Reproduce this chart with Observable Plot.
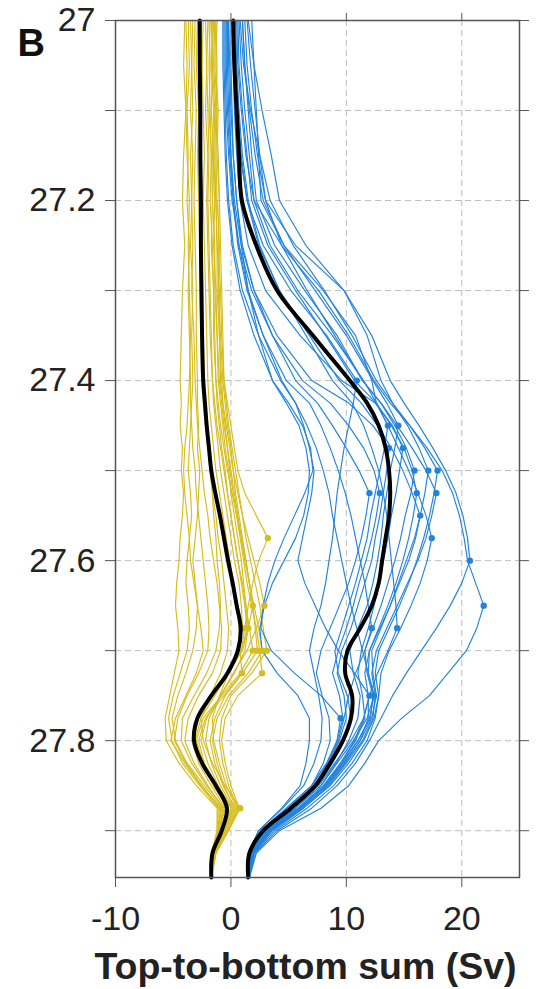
<!DOCTYPE html>
<html>
<head>
<meta charset="utf-8">
<script src="https://cdn.jsdelivr.net/npm/d3@7"></script>
<script src="https://cdn.jsdelivr.net/npm/@observablehq/plot@0.6"></script>
<style>
  html, body { margin: 0; padding: 0; background: #fff; }
  svg { display: block; }
</style>
</head>
<body>
<div id="chart"></div>
<script>
// Potential density levels
const density = [27.00,27.05,27.10,27.15,27.20,27.25,27.30,27.35,27.40,27.425,27.45,27.475,27.50,27.525,27.55,27.575,27.60,27.625,27.65,27.675,27.70,27.725,27.75,27.775,27.80,27.825,27.85,27.875,27.90,27.925,27.952];

// Yellow ensemble members (Sv), one row per member, values at each density level
const yellowRuns = [
  [-1.3,-1.2,-1.3,-1.1,-1.0,-1.1,-0.9,-0.8,-0.6,-0.3,0.0,0.3,0.6,1.2,2.2,3.2,2.4,1.9,1.5,1.2,0.9,-0.2,-1.0,-1.6,-1.5,-1.0,-0.4,0.5,-0.4,-1.4,-1.7],
  [-1.5,-1.6,-1.4,-1.5,-1.3,-1.2,-1.2,-1.0,-0.9,-0.7,-0.4,-0.1,0.2,0.6,1.0,1.5,2.0,2.5,2.9,2.2,1.4,0.2,-0.9,-1.9,-2.2,-1.7,-0.9,0.2,-0.6,-1.5,-1.7],
  [-1.9,-1.8,-1.9,-1.7,-1.8,-1.6,-1.5,-1.5,-1.3,-1.1,-0.9,-0.6,-0.3,0.1,0.5,0.9,1.3,1.6,1.9,1.5,1.0,-0.3,-1.6,-2.8,-3.2,-2.6,-1.5,-0.3,-0.9,-1.6,-1.7],
  [-2.0,-2.1,-2.0,-1.9,-2.0,-1.9,-1.8,-1.7,-1.6,-1.5,-1.3,-1.1,-0.9,-0.6,-0.3,0.0,0.3,0.7,0.9,1.0,0.6,-0.4,-1.8,-3.0,-3.4,-2.8,-1.7,-0.5,-1.0,-1.6,-1.7],
  [-1.6,-1.7,-1.5,-1.6,-1.4,-1.5,-1.3,-1.2,-1.1,-0.9,-0.7,-0.5,-0.2,0.0,0.3,0.6,0.9,1.1,1.3,1.5,1.2,0.3,-0.9,-2.1,-2.6,-2.0,-1.1,0.1,-0.7,-1.5,-1.7],
  [-1.3,-1.4,-1.2,-1.3,-1.2,-1.0,-1.1,-0.9,-0.7,-0.5,-0.3,0.0,0.2,0.4,0.7,1.0,1.3,1.6,1.9,2.1,2.3,1.0,-0.5,-1.4,-1.8,-1.4,-0.7,0.4,-0.5,-1.4,-1.7],
  [-1.2,-1.3,-1.1,-1.2,-1.0,-0.9,-0.8,-0.7,-0.6,-0.4,-0.2,0.1,0.4,0.7,1.0,1.3,1.7,2.1,2.5,2.8,3.1,1.8,0.0,-0.8,-1.0,-0.7,-0.2,0.6,-0.3,-1.3,-1.7],
  [-2.2,-2.1,-2.2,-2.0,-2.1,-2.0,-1.9,-1.8,-1.6,-1.4,-1.2,-0.9,-0.6,-0.3,0.0,0.3,0.6,1.0,1.3,1.6,1.9,0.8,-0.8,-2.4,-3.0,-2.4,-1.4,-0.2,-0.9,-1.6,-1.7],
  [-1.7,-1.6,-1.7,-1.5,-1.6,-1.4,-1.4,-1.2,-1.0,-0.8,-0.6,-0.3,0.0,0.3,0.6,0.9,1.2,1.6,2.0,2.4,2.7,1.5,-0.2,-1.2,-1.6,-1.2,-0.6,0.3,-0.6,-1.5,-1.7],
  [-1.4,-1.5,-1.3,-1.4,-1.3,-1.2,-1.0,-1.0,-0.8,-0.7,-0.5,-0.3,-0.1,0.2,0.5,0.8,1.1,1.4,1.8,2.2,2.5,2.7,0.6,-0.5,-0.8,-0.5,0.0,0.7,-0.3,-1.3,-1.7],
  [-2.4,-2.5,-2.4,-2.3,-2.4,-2.3,-2.2,-2.1,-2.0,-1.9,-1.7,-1.5,-1.3,-1.0,-0.7,-0.4,-0.1,0.2,0.5,0.7,0.8,0.95,-0.6,-2.2,-2.8,-2.3,-1.3,0.0,-0.8,-1.5,-1.7],
  [-1.8,-1.9,-1.8,-1.7,-1.6,-1.7,-1.5,-1.4,-1.3,-1.2,-1.0,-0.8,-0.5,-0.3,0.0,0.3,0.6,0.9,1.2,1.4,0.9,-0.2,-1.4,-2.6,-3.1,-2.5,-1.5,-0.3,-0.9,-1.6,-1.7],
  [-2.9,-3.0,-2.8,-2.9,-2.8,-2.7,-2.7,-2.6,-2.5,-2.4,-2.2,-2.0,-1.8,-1.6,-1.3,-1.1,-0.8,-0.6,-0.4,-0.2,-0.3,-0.9,-1.8,-2.6,-2.4,-1.6,-0.5,0.8,-0.2,-1.3,-1.7],
  [-3.3,-3.4,-3.3,-3.5,-3.4,-3.3,-3.4,-3.2,-3.1,-3.0,-2.9,-2.7,-2.5,-2.3,-2.0,-1.8,-1.5,-1.2,-1.0,-0.8,-0.9,-1.6,-2.8,-3.7,-4.0,-3.2,-2.0,-0.7,-1.0,-1.6,-1.7],
  [-3.7,-3.6,-3.8,-3.7,-3.8,-3.6,-3.7,-3.6,-3.5,-3.5,-3.4,-3.3,-3.1,-3.0,-2.8,-2.6,-2.4,-2.2,-2.0,-1.9,-2.0,-2.8,-3.8,-4.6,-4.9,-3.9,-2.5,-1.0,-1.1,-1.6,-1.7],
  [-4.0,-4.1,-3.9,-4.1,-4.2,-4.0,-4.2,-4.3,-4.4,-4.3,-4.4,-4.2,-4.3,-4.1,-4.2,-4.4,-4.5,-4.7,-4.8,-4.6,-4.5,-4.9,-5.3,-5.7,-5.6,-4.5,-3.0,-1.2,-1.2,-1.7,-1.7],
  [-3.5,-3.4,-3.5,-3.3,-3.4,-3.5,-3.3,-3.4,-3.3,-3.4,-3.5,-3.6,-3.7,-3.5,-3.4,-3.6,-3.8,-3.9,-3.7,-3.6,-3.8,-4.4,-5.0,-5.4,-5.1,-4.2,-2.7,-1.1,-1.2,-1.6,-1.7],
  [-3.1,-3.2,-3.0,-3.1,-3.2,-3.1,-3.0,-3.0,-2.9,-2.9,-2.8,-2.9,-2.7,-2.8,-2.9,-3.1,-3.3,-3.1,-2.9,-3.0,-3.3,-3.9,-4.6,-5.1,-4.8,-3.8,-2.3,-0.8,-1.1,-1.6,-1.7],
  [-2.6,-2.5,-2.7,-2.6,-2.5,-2.6,-2.5,-2.4,-2.3,-2.2,-2.1,-1.9,-1.8,-1.6,-1.5,-1.3,-1.2,-1.0,-0.9,-1.0,-1.3,-2.1,-3.2,-4.2,-4.3,-3.4,-2.1,-0.6,-1.0,-1.6,-1.7],
  [-3.9,-3.8,-3.9,-3.8,-3.6,-3.7,-3.6,-3.5,-3.6,-3.7,-3.8,-4.0,-4.1,-4.0,-3.8,-3.6,-3.5,-3.2,-2.9,-2.6,-2.4,-3.0,-3.9,-4.8,-5.2,-4.0,-2.6,-0.9,-1.1,-1.6,-1.7]
];
const yellowHasDot = [true,true,true,true,true,true,true,true,true,true,true,true,true,false,false,false,false,false,false,false];

// Blue ensemble members (Sv)
const blueRuns = [
  [0.2,0.3,0.5,0.8,1.4,2.8,5.2,8.3,10.9,10.6,10.2,9.8,9.5,9.2,9.0,8.8,8.5,8.2,7.8,7.2,6.8,7.2,7.6,7.9,7.8,7.2,6.3,4.5,2.4,1.5,1.4],
  [0.5,0.6,0.9,1.3,2.0,3.4,5.8,8.8,11.5,12.6,13.6,13.3,12.9,12.5,12.1,11.8,11.3,10.8,10.2,9.6,9.0,9.3,10.1,10.4,9.8,8.8,7.5,5.3,2.9,1.7,1.5],
  [1.0,1.2,1.6,2.1,2.8,4.6,7.3,10.0,12.3,13.5,14.5,14.2,13.8,13.5,13.2,13.0,12.7,12.3,11.8,11.0,10.3,10.6,11.2,11.0,10.2,9.1,7.8,5.6,3.1,1.8,1.5],
  [0.1,0.2,0.3,0.5,0.8,1.5,3.0,6.0,9.6,12.5,14.0,14.9,14.6,14.3,13.9,13.6,13.2,12.9,12.4,11.9,11.3,11.0,11.4,11.6,10.8,9.5,8.0,5.8,3.2,1.8,1.5],
  [-0.3,-0.3,-0.2,0.0,0.3,0.9,2.0,4.0,7.0,10.2,12.3,13.7,13.5,13.2,12.9,12.5,12.2,11.6,11.0,10.4,9.6,9.2,9.8,10.0,9.4,8.5,7.2,5.0,2.7,1.6,1.5],
  [1.2,1.4,1.8,2.3,3.0,4.4,6.6,9.0,11.4,13.0,14.2,15.2,15.9,15.6,15.1,14.7,14.2,13.6,13.0,12.3,11.6,11.8,12.3,12.1,11.0,9.6,8.2,6.0,3.4,1.9,1.5],
  [0.8,1.1,1.7,2.5,3.4,5.4,8.1,10.5,12.6,14.0,15.3,16.3,17.1,16.8,16.4,15.9,15.2,14.5,13.8,13.0,12.2,12.3,12.6,12.2,11.2,9.9,8.4,6.2,3.5,1.9,1.5],
  [-0.5,-0.5,-0.4,-0.2,0.1,0.7,1.8,3.6,6.2,8.6,10.2,11.5,12.4,12.9,12.6,12.2,11.7,11.1,10.6,10.0,9.3,8.8,9.4,9.7,9.2,8.3,7.0,4.8,2.6,1.6,1.5],
  [1.5,2.0,2.7,3.5,4.2,6.5,9.8,11.8,13.0,14.0,15.5,16.8,17.9,17.6,17.2,16.7,16.1,15.4,14.6,13.7,12.8,12.5,12.8,12.4,11.5,10.2,8.6,6.3,3.6,2.0,1.6],
  [0.0,0.0,0.1,0.2,0.5,1.0,2.0,3.6,5.6,7.5,8.8,10.0,11.1,12.0,11.7,11.3,10.8,10.2,9.4,8.6,7.8,7.4,7.9,8.5,8.6,8.0,7.0,4.9,2.6,1.6,1.5],
  [0.6,0.7,1.0,1.4,1.8,3.2,5.6,8.2,10.7,12.6,13.9,15.0,15.7,16.1,15.8,15.4,14.9,14.3,13.6,12.8,12.0,11.9,12.4,12.0,11.0,9.7,8.2,5.9,3.3,1.9,1.5],
  [0.3,0.4,0.6,0.9,1.4,2.4,4.2,6.8,9.4,11.3,12.7,13.9,14.9,15.7,16.4,16.0,15.4,14.6,13.8,12.9,12.0,11.6,11.9,11.9,11.2,9.8,8.3,6.0,3.3,1.8,1.5],
  [1.0,1.2,1.5,1.8,2.2,3.8,6.4,9.2,11.4,13.0,14.4,15.7,16.9,17.8,17.4,16.9,16.2,15.3,14.4,13.5,12.6,12.2,12.5,12.3,11.4,10.0,8.5,6.1,3.4,1.9,1.5],
  [1.8,2.0,2.2,2.4,2.6,4.6,8.0,10.8,12.2,12.6,13.6,14.5,15.4,16.2,16.9,17.4,17.0,16.4,15.6,14.7,13.7,13.0,12.8,12.5,11.8,10.5,8.9,6.6,3.8,2.0,1.6],
  [1.4,1.7,2.1,2.5,3.0,5.6,9.8,12.2,13.8,15.0,16.3,17.5,18.6,19.5,20.1,20.5,20.7,20.0,19.0,17.8,16.5,15.2,14.0,13.0,12.0,10.8,9.2,7.0,4.0,2.1,1.6],
  [0.7,0.9,1.2,1.6,2.0,4.4,7.6,10.2,12.4,13.8,15.5,17.0,18.3,19.2,19.8,20.2,20.5,21.2,21.9,21.3,20.4,18.8,17.2,14.8,12.8,11.6,10.2,7.8,4.2,2.2,1.6],
  [-0.2,-0.2,-0.1,0.0,0.2,0.6,1.4,2.8,4.8,6.8,7.8,8.6,9.3,9.9,10.4,10.8,11.2,11.6,11.9,12.2,11.6,10.8,10.2,9.8,9.3,8.4,7.2,5.1,2.7,1.6,1.5],
  [0.4,0.5,0.7,1.0,1.5,2.5,4.2,6.5,8.8,10.5,11.5,12.2,12.8,13.2,13.5,13.7,13.9,14.1,14.3,14.4,13.6,12.7,12.0,11.5,10.7,9.5,8.1,5.8,3.2,1.8,1.5],
  [-0.6,-0.6,-0.5,-0.4,-0.2,0.2,1.0,2.4,4.3,5.6,6.6,7.4,8.0,8.5,8.8,9.2,9.6,10.0,10.4,10.9,11.4,11.9,12.4,11.8,10.6,9.2,7.8,5.5,3.0,1.7,1.5],
  [-0.4,-0.4,-0.3,-0.1,0.2,0.7,1.5,2.8,4.4,5.6,6.3,6.8,7.2,7.0,6.6,6.2,5.8,6.4,7.3,8.2,9.3,10.7,12.0,11.5,10.4,9.0,7.6,5.3,2.9,1.7,1.5],
  [-0.7,-0.7,-0.6,-0.5,-0.3,0.1,0.8,2.0,3.6,5.0,6.2,6.9,7.1,6.4,5.5,4.6,3.8,3.2,2.8,2.6,3.5,5.5,7.8,9.5,9.2,8.3,7.0,4.8,2.6,1.6,1.5],
  [-0.2,-0.1,0.0,0.2,0.5,0.9,1.5,2.4,3.6,4.8,5.9,6.5,6.8,6.7,6.3,5.6,4.6,3.6,2.9,2.5,2.7,4.0,5.8,6.8,6.8,6.5,6.0,4.4,2.4,1.5,1.4]
];
const blueHasDot = [true,true,true,true,true,true,true,true,true,true,true,true,true,true,true,true,true,true,true,true,true,false];

// Ensemble means (Sv)
const yellowMean = [-2.7,-2.7,-2.65,-2.65,-2.6,-2.6,-2.55,-2.5,-2.4,-2.25,-2.1,-1.9,-1.7,-1.35,-0.95,-0.6,-0.25,0.15,0.5,0.85,0.6,-0.3,-1.7,-2.9,-3.2,-2.5,-1.3,-0.35,-0.8,-1.6,-1.7];
const blueMean = [0.2,0.3,0.5,0.7,0.95,2.2,4.0,7.1,10.3,11.8,12.8,13.4,13.7,13.8,13.7,13.4,13.1,12.8,12.2,11.2,10.1,9.9,10.5,10.4,9.7,8.6,7.3,5.2,2.8,1.6,1.5];

// Axis ticks
const xTicks = [-10, 0, 10, 20];
const xGrid = [0, 10, 20];
const yTicks = [27.0, 27.1, 27.2, 27.3, 27.4, 27.5, 27.6, 27.7, 27.8, 27.9];
const yLabels = ["27", "", "27.2", "", "27.4", "", "27.6", "", "27.8", ""];
const yGrid = [27.1, 27.2, 27.3, 27.4, 27.5, 27.6, 27.7, 27.8, 27.9];

const panelLabel = "B";
const xTitle = "Top-to-bottom sum (Sv)";

const YELLOW = "#d6bd1f";
const BLUE = "#2283dd";
const FONT = "'Liberation Sans', Arial, Helvetica, sans-serif";

const toRows = runs => runs.flatMap((xs, run) => xs.map((x, j) => ({run, x, d: density[j]})));
const toDots = (runs, flags) => runs.filter((_, i) => flags[i]).map(xs => {
  const j = d3.maxIndex(xs);
  return {x: xs[j], d: density[j]};
});
const meanRows = xs => xs.map((x, j) => ({x, d: density[j]}));

const chart = Plot.plot({
  width: 547,
  height: 989,
  marginLeft: 115,
  marginRight: 28,
  marginTop: 20,
  marginBottom: 112,
  style: {fontFamily: FONT, fontSize: "34px", color: "#222", background: "#fff"},
  x: {domain: [-10, 25]},
  y: {domain: [27, 27.952], reverse: true},
  marks: [
    Plot.gridX(xGrid, {stroke: "#bdbdbd", strokeOpacity: 1, strokeWidth: 1, strokeDasharray: "6,4"}),
    Plot.gridY(yGrid, {stroke: "#bdbdbd", strokeOpacity: 1, strokeWidth: 1, strokeDasharray: "6,4"}),
    Plot.line(toRows(yellowRuns), {x: "x", y: "d", z: "run", stroke: YELLOW, strokeWidth: 1.15}),
    Plot.line(toRows(blueRuns), {x: "x", y: "d", z: "run", stroke: BLUE, strokeWidth: 1.15}),
    Plot.dot(toDots(yellowRuns, yellowHasDot), {x: "x", y: "d", r: 3.2, fill: YELLOW}),
    Plot.dot(toDots(blueRuns, blueHasDot), {x: "x", y: "d", r: 3.2, fill: BLUE}),
    Plot.line(meanRows(yellowMean), {x: "x", y: "d", stroke: "#000", strokeWidth: 4, curve: "catmull-rom"}),
    Plot.line(meanRows(blueMean), {x: "x", y: "d", stroke: "#000", strokeWidth: 4, curve: "catmull-rom"}),
    Plot.frame({stroke: "#555", strokeWidth: 1.5}),
    Plot.axisY(yTicks, {anchor: "left", tickSize: 10, tickPadding: 10, stroke: "#555", fill: "#222",
      tickFormat: d => yLabels[yTicks.indexOf(d)], label: null}),
    Plot.axisY(yTicks, {anchor: "right", tickSize: 9, stroke: "#555", tickFormat: () => "", label: null}),
    Plot.axisX(xTicks, {anchor: "bottom", tickSize: 10, tickPadding: 18, stroke: "#555", fill: "#222",
      tickFormat: d => String(d), label: null}),
    Plot.axisX(xGrid, {anchor: "top", tickSize: 8, stroke: "#555", tickFormat: () => "", label: null}),
    Plot.text([panelLabel], {frameAnchor: "top-left", dx: -98, dy: 35, textAnchor: "start", lineAnchor: "bottom",
      fontSize: 38, fontWeight: "bold", fill: "#111"}),
    Plot.text([xTitle], {frameAnchor: "bottom", dx: -12, dy: 101, textAnchor: "middle", lineAnchor: "bottom",
      fontSize: 37.5, fontWeight: "bold", fill: "#222"})
  ]
});
document.getElementById("chart").appendChild(chart);
</script>
</body>
</html>
